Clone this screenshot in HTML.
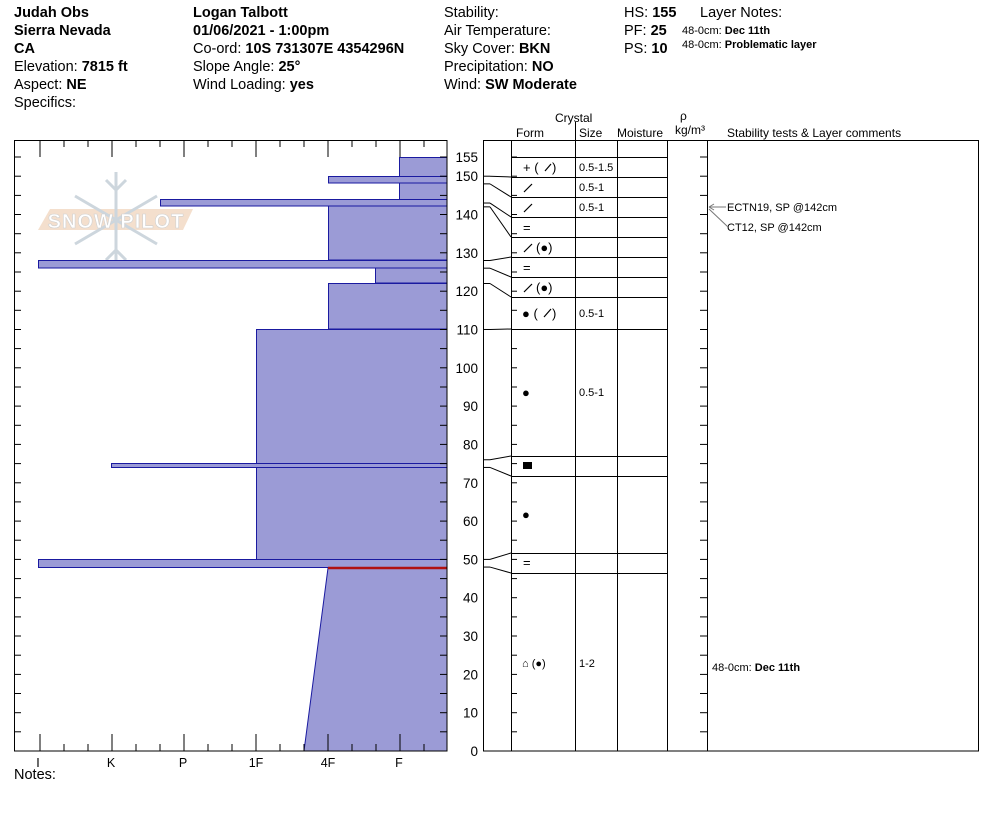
<!DOCTYPE html>
<html><head><meta charset="utf-8"><style>
html,body{margin:0;padding:0;background:#fff;}
svg{display:block;font-family:"Liberation Sans",Arial,sans-serif;}
</style></head><body>
<svg id="s" width="994" height="840" viewBox="0 0 994 840" xmlns="http://www.w3.org/2000/svg">
<g font-size="14.5" fill="#000">
<text x="14" y="17" font-weight="bold">Judah Obs</text>
<text x="14" y="35" font-weight="bold">Sierra Nevada</text>
<text x="14" y="53" font-weight="bold">CA</text>
<text x="14" y="71">Elevation: <tspan font-weight="bold">7815 ft</tspan></text>
<text x="14" y="89">Aspect: <tspan font-weight="bold">NE</tspan></text>
<text x="14" y="107">Specifics:</text>
<text x="193" y="17" font-weight="bold">Logan Talbott</text>
<text x="193" y="35" font-weight="bold">01/06/2021 - 1:00pm</text>
<text x="193" y="53">Co-ord: <tspan font-weight="bold">10S 731307E 4354296N</tspan></text>
<text x="193" y="71">Slope Angle: <tspan font-weight="bold">25°</tspan></text>
<text x="193" y="89">Wind Loading: <tspan font-weight="bold">yes</tspan></text>
<text x="444" y="17">Stability:</text>
<text x="444" y="35">Air Temperature:</text>
<text x="444" y="53">Sky Cover: <tspan font-weight="bold">BKN</tspan></text>
<text x="444" y="71">Precipitation: <tspan font-weight="bold">NO</tspan></text>
<text x="444" y="89">Wind:  <tspan font-weight="bold">SW Moderate</tspan></text>
<text x="624" y="17">HS: <tspan font-weight="bold">155</tspan></text>
<text x="624" y="35">PF: <tspan font-weight="bold">25</tspan></text>
<text x="624" y="53">PS: <tspan font-weight="bold">10</tspan></text>
<text x="700" y="17">Layer Notes:</text>
<text x="14" y="779">Notes:</text>
</g>
<g font-size="11"><text x="682" y="34">48-0cm:  <tspan font-weight="bold">Dec 11th</tspan></text>
<text x="682" y="48">48-0cm: <tspan font-weight="bold">Problematic layer</tspan></text></g>

<!-- watermark -->
<g opacity="0.9">
<polygon points="50,209 193,209 183,230 38,230" fill="#f3dcc8"/>
<g stroke="#c8d2da" stroke-width="3" fill="none">
<line x1="116" y1="172" x2="116" y2="268"/>
<line x1="75" y1="196" x2="157" y2="244"/>
<line x1="75" y1="244" x2="157" y2="196"/>
<polyline points="106,180 116,190 126,180"/>
<polyline points="106,260 116,250 126,260"/>
</g>
<text x="116" y="228" text-anchor="middle" font-size="20" font-weight="bold" fill="#fff" stroke="#ccc" stroke-width="0.6" letter-spacing="1">SNOW PILOT</text>
</g>

<g fill="#9b9bd6" stroke="#1a1aa0" stroke-width="1">
<rect x="399.5" y="157.5" width="47.5" height="42"/>
<rect x="328.5" y="176.5" width="118.5" height="6.5"/>
<rect x="160.5" y="199.5" width="286.5" height="6.5"/>
<rect x="328.5" y="206" width="118.5" height="54"/>
<rect x="38.5" y="260.5" width="408.5" height="7.5"/>
<rect x="375.5" y="268" width="71.5" height="15"/>
<rect x="328.5" y="283.5" width="118.5" height="45.5"/>
<rect x="256.5" y="329.5" width="190.5" height="134"/>
<rect x="111.5" y="463.5" width="335.5" height="4"/>
<rect x="256.5" y="467.5" width="190.5" height="92"/>
<rect x="38.5" y="559.5" width="408.5" height="8"/>
<polygon points="328,568 447,568 447,751 304,751"/>
</g>
<line x1="328" y1="568" x2="447" y2="568" stroke="#b01010" stroke-width="2.5"/>

<g id="ax" stroke="#000" fill="none">
<rect x="14.5" y="140.5" width="432.5" height="610.5"/>
<rect x="483.5" y="140.5" width="495" height="610.5"/>
<line x1="511.5" y1="140" x2="511.5" y2="751"/>
<line x1="575.5" y1="140" x2="575.5" y2="751"/>
<line x1="617.5" y1="140" x2="617.5" y2="751"/>
<line x1="667.5" y1="140" x2="667.5" y2="751"/>
<line x1="707.5" y1="140" x2="707.5" y2="751"/>
<line x1="575.5" y1="122" x2="575.5" y2="140"/>
</g>
<g font-size="12">
<text x="516" y="137">Form</text>
<text x="555" y="122">Crystal</text>
<text x="579" y="137">Size</text>
<text x="617" y="137">Moisture</text>
<text x="680" y="120">ρ</text>
<text x="675" y="134">kg/m³</text>
<text x="727" y="137">Stability tests &amp; Layer comments</text>
<text x="727" y="211" font-size="11">ECTN19, SP @142cm</text>
<text x="727" y="231" font-size="11">CT12, SP @142cm</text>
<text x="712" y="671" font-size="11">48-0cm: <tspan font-weight="bold">Dec 11th</tspan></text>
</g>
<g stroke="#777" fill="none"><line x1="709" y1="207" x2="726" y2="207"/><line x1="709" y1="207" x2="714" y2="204"/><line x1="709" y1="207" x2="714" y2="210"/>
<line x1="709" y1="209" x2="728" y2="227"/></g>
<g font-size="12.5" text-anchor="middle">
<text x="38" y="767">I</text><text x="111" y="767">K</text><text x="183" y="767">P</text><text x="256" y="767">1F</text><text x="328" y="767">4F</text><text x="399" y="767">F</text>
</g>
<g id="dyn"></g>
<g font-size="11">
<text x="579" y="171">0.5-1.5</text><text x="579" y="191">0.5-1</text><text x="579" y="211">0.5-1</text>
<text x="579" y="317">0.5-1</text><text x="579" y="396">0.5-1</text><text x="579" y="667">1-2</text>
</g>
<g font-size="13">
<text x="523" y="172">+ (</text><text x="552" y="172">)</text>
<text x="523" y="232">=</text><text x="523" y="272">=</text><text x="523" y="567">=</text>
<text x="536" y="252">(●)</text><text x="536" y="292">(●)</text>
<text x="522" y="318">● (</text><text x="552" y="318">)</text>
<text x="522" y="397">●</text><text x="522" y="519">●</text>
<rect x="523" y="462" width="9" height="7"/>
<text x="522" y="667" font-size="11">⌂ (●)</text>
</g>
<g stroke="#000" stroke-width="1.2">
<line x1="545" y1="171" x2="551" y2="164"/>
<line x1="524" y1="192" x2="532" y2="184"/><line x1="524" y1="212" x2="532" y2="204"/>
<line x1="524" y1="252" x2="532" y2="244"/><line x1="524" y1="292" x2="532" y2="284"/>
<line x1="544" y1="317" x2="551" y2="309"/>
</g>
</svg>
<script>
var g=document.getElementById('dyn'),h='';
function Y(c){return 751-3.832*c;}
function L(a,b,c,d,col){h+='<line x1="'+a+'" y1="'+b+'" x2="'+c+'" y2="'+d+'" stroke="'+(col||'#000')+'"/>';}
for(var c=0;c<=155;c+=5){var y=Y(c).toFixed(1);L(14,y,21,y);L(440,y,447,y);L(700,y,707,y);L(511,y,517,y);
 if(c%10==0||c==155){h+='<text x="478" y="'+(+y+5)+'" font-size="13.5" text-anchor="end">'+c+'</text>';}}
var maj=[40,112,184,256,328,400];
for(var x=40;x<=447;x+=24){var m=maj.indexOf(x)>=0;L(x,140,x,m?157:147);L(x,751,x,m?734:744);}
[157,177,197,217,237,257,277,297,329,456,476,553,573].forEach(function(y){L(511,y+.5,667,y+.5);});
[[150,177],[148,197],[143,217],[142,237],[128,257],[126,277],[122,297],[110,329],[76,456],[74,476],[50,553],[48,573]].forEach(function(p){var y=Y(p[0]);L(483,y,490,y);L(490,y,511,p[1]);});
g.innerHTML=h;
</script>
</body></html>
